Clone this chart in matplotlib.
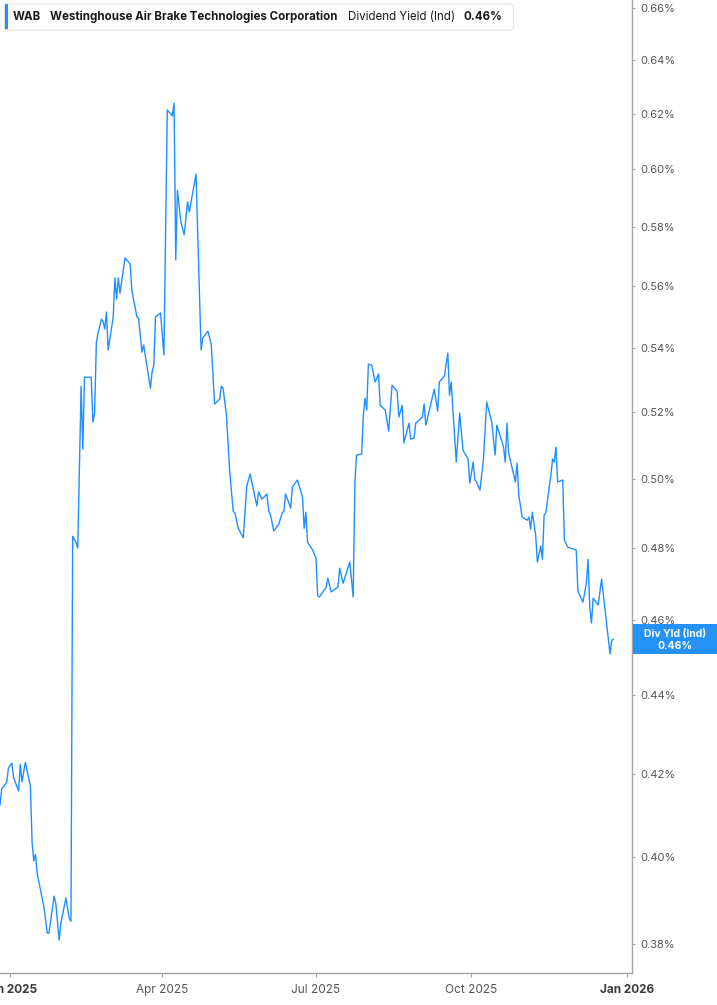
import matplotlib
matplotlib.use("Agg")
import matplotlib.pyplot as plt
import pandas as pd
from matplotlib.patches import FancyBboxPatch, Rectangle
from matplotlib.ticker import FixedLocator, NullLocator

plt.rcParams['font.family'] = ['Inter', 'DejaVu Sans']

# dividend yield (indicated), in percent
dates = [
    "2024-12-26", "2024-12-27", "2024-12-30", "2024-12-31",
    "2025-01-02", "2025-01-03", "2025-01-06", "2025-01-07", "2025-01-08", "2025-01-10",
    "2025-01-13", "2025-01-14", "2025-01-15", "2025-01-16", "2025-01-17", "2025-01-21",
    "2025-01-23", "2025-01-24", "2025-01-27", "2025-01-28", "2025-01-30", "2025-01-31",
    "2025-02-03", "2025-02-05", "2025-02-06", "2025-02-07", "2025-02-09", "2025-02-10",
    "2025-02-12", "2025-02-13", "2025-02-14", "2025-02-18", "2025-02-19", "2025-02-20",
    "2025-02-21", "2025-02-22", "2025-02-24", "2025-02-25", "2025-02-26", "2025-02-27",
    "2025-02-28",
    "2025-03-03", "2025-03-04", "2025-03-05", "2025-03-06", "2025-03-07", "2025-03-10",
    "2025-03-13", "2025-03-14", "2025-03-17", "2025-03-18", "2025-03-20", "2025-03-21",
    "2025-03-25", "2025-03-26", "2025-03-27", "2025-03-28", "2025-03-31",
    "2025-04-02", "2025-04-04", "2025-04-07", "2025-04-08", "2025-04-09", "2025-04-10",
    "2025-04-12", "2025-04-14", "2025-04-16", "2025-04-17", "2025-04-21", "2025-04-24",
    "2025-04-25", "2025-04-28", "2025-04-30",
    "2025-05-02", "2025-05-05", "2025-05-06", "2025-05-07", "2025-05-09", "2025-05-11",
    "2025-05-13", "2025-05-14", "2025-05-16", "2025-05-19", "2025-05-21", "2025-05-23",
    "2025-05-25", "2025-05-27", "2025-05-28", "2025-05-30",
    "2025-06-02", "2025-06-03", "2025-06-04", "2025-06-06", "2025-06-09", "2025-06-11",
    "2025-06-12", "2025-06-13", "2025-06-16", "2025-06-17", "2025-06-20", "2025-06-23",
    "2025-06-24", "2025-06-25", "2025-06-26", "2025-06-29",
    "2025-07-01", "2025-07-02", "2025-07-03", "2025-07-07", "2025-07-08", "2025-07-10",
    "2025-07-14", "2025-07-15", "2025-07-17", "2025-07-21", "2025-07-23", "2025-07-24",
    "2025-07-25", "2025-07-28", "2025-07-29", "2025-07-30", "2025-07-31",
    "2025-08-01", "2025-08-03", "2025-08-05", "2025-08-07", "2025-08-08", "2025-08-11",
    "2025-08-13", "2025-08-15", "2025-08-18", "2025-08-19", "2025-08-21", "2025-08-22",
    "2025-08-25", "2025-08-26", "2025-08-28", "2025-08-29",
    "2025-09-02", "2025-09-03", "2025-09-04", "2025-09-09", "2025-09-11", "2025-09-12",
    "2025-09-15", "2025-09-17", "2025-09-18", "2025-09-19", "2025-09-22", "2025-09-24",
    "2025-09-26", "2025-09-29", "2025-09-30",
    "2025-10-02", "2025-10-03", "2025-10-04", "2025-10-06", "2025-10-08", "2025-10-10",
    "2025-10-13", "2025-10-15", "2025-10-16", "2025-10-20", "2025-10-21", "2025-10-22",
    "2025-10-23", "2025-10-27", "2025-10-28", "2025-10-29", "2025-10-31",
    "2025-11-03", "2025-11-04", "2025-11-05", "2025-11-06", "2025-11-08", "2025-11-09",
    "2025-11-11", "2025-11-12", "2025-11-13", "2025-11-14", "2025-11-17", "2025-11-18",
    "2025-11-19", "2025-11-20", "2025-11-21", "2025-11-24", "2025-11-25", "2025-11-27",
    "2025-12-02", "2025-12-03", "2025-12-06", "2025-12-08", "2025-12-09", "2025-12-10",
    "2025-12-11", "2025-12-12", "2025-12-15", "2025-12-17", "2025-12-22", "2025-12-23",
    "2025-12-24",
]

yields = [
    0.4125, 0.4164, 0.4181, 0.4216,
    0.4228, 0.4193, 0.4159, 0.4225, 0.4181, 0.4230,
    0.4171, 0.4033, 0.3991, 0.4007, 0.3962, 0.3884,
    0.3825, 0.3825, 0.3909, 0.3893, 0.3809, 0.3847,
    0.3905, 0.3858, 0.3852, 0.4833, 0.4816, 0.4799,
    0.5280, 0.5088, 0.5308, 0.5308, 0.5169, 0.5197,
    0.5416, 0.5448, 0.5493, 0.5486, 0.5461, 0.5516,
    0.5394,
    0.5500, 0.5628, 0.5558, 0.5628, 0.5578, 0.5695,
    0.5674, 0.5588, 0.5500, 0.5496, 0.5387, 0.5410,
    0.5274, 0.5324, 0.5346, 0.5500, 0.5513,
    0.5378, 0.6214, 0.6192, 0.6239, 0.5688, 0.5927,
    0.5817, 0.5773, 0.5886, 0.5851, 0.5983, 0.5394,
    0.5432, 0.5454, 0.5413,
    0.5225, 0.5240, 0.5280, 0.5274, 0.5191, 0.5017,
    0.4905, 0.4900, 0.4856, 0.4828, 0.4978, 0.5014,
    0.4966, 0.4920, 0.4961, 0.4940,
    0.4955, 0.4905, 0.4896, 0.4848, 0.4868, 0.4900,
    0.4905, 0.4955, 0.4914, 0.4975, 0.4996, 0.4946,
    0.4856, 0.4902, 0.4816, 0.4794,
    0.4771, 0.4666, 0.4663, 0.4690, 0.4715, 0.4677,
    0.4690, 0.4743, 0.4701, 0.4760, 0.4663, 0.4987,
    0.5070, 0.5073, 0.5188, 0.5243, 0.5206,
    0.5349, 0.5346, 0.5293, 0.5318, 0.5221, 0.5206,
    0.5142, 0.5283, 0.5265, 0.5185, 0.5221, 0.5106,
    0.5166, 0.5118, 0.5121, 0.5166,
    0.5185, 0.5225, 0.5160, 0.5271, 0.5203, 0.5293,
    0.5312, 0.5384, 0.5252, 0.5293, 0.5049, 0.5197,
    0.5085, 0.5058, 0.4987,
    0.5049, 0.4996, 0.4990, 0.4966, 0.5052, 0.5231,
    0.5169, 0.5070, 0.5160, 0.5094, 0.5049, 0.5166,
    0.5076, 0.4990, 0.5046, 0.4952, 0.4888,
    0.4879, 0.4888, 0.4853, 0.4902, 0.4836, 0.4760,
    0.4805, 0.4768, 0.4894, 0.4900, 0.5011, 0.5058,
    0.5049, 0.5094, 0.4990, 0.4996, 0.4822, 0.4802,
    0.4794, 0.4679, 0.4649, 0.4701, 0.4768, 0.4635,
    0.4592, 0.4660, 0.4641, 0.4713, 0.4509, 0.4546,
    0.4548,
]

y_ticks = [0.38, 0.40, 0.42, 0.44, 0.46, 0.48, 0.50, 0.52,
           0.54, 0.56, 0.58, 0.60, 0.62, 0.64, 0.66]
x_ticks = ["2025-01-01", "2025-04-01", "2025-07-01", "2025-10-01", "2026-01-01"]
x_labels = ["Jan 2025", "Apr 2025", "Jul 2025", "Oct 2025", "Jan 2026"]

ticker = "WAB"
company = "Westinghouse Air Brake Technologies Corporation"
metric = "Dividend Yield (Ind)"
last_label = "0.46%"

LINE = "#1f8fff"
AXIS = "#a3a3a3"
W, H = 717, 1005

fig = plt.figure(figsize=(W / 100, H / 100), dpi=100)
fig.patch.set_facecolor("white")
ax = fig.add_axes([0, 32 / H, 632 / W, 973 / H])

ax.plot(pd.to_datetime(dates), yields, color=LINE, lw=1.0)

ax.set_yscale("log")
ax.set_ylim(0.3736, 0.6630)
ax.set_xlim(pd.Timestamp("2024-12-26"), pd.Timestamp("2026-01-04"))

ax.yaxis.tick_right()
ax.yaxis.set_major_locator(FixedLocator(y_ticks))
ax.yaxis.set_minor_locator(NullLocator())
ax.set_yticklabels([f"{v:.2f}%" for v in y_ticks])
ax.set_xticks(pd.to_datetime(x_ticks))
ax.set_xticklabels(x_labels)

ax.tick_params(axis="y", length=2, width=0.8, color=AXIS, pad=4,
               labelsize=8, labelcolor="#555555")
ax.tick_params(axis="x", length=3, width=0.8, color=AXIS, pad=5,
               labelsize=8.5, labelcolor="#555555")
for lab in ax.get_xticklabels():
    if lab.get_text().startswith("Jan"):
        lab.set_fontweight("bold")
        lab.set_color("#3a3a3a")

for side in ["top", "left"]:
    ax.spines[side].set_visible(False)
for side in ["right", "bottom"]:
    ax.spines[side].set_color(AXIS)
    ax.spines[side].set_linewidth(1.0)

# header box (inches, from the top-left)
inch = fig.dpi_scale_trans
top = H / 100
header = FancyBboxPatch((0.045, top - 0.30), 5.09, 0.26,
                        boxstyle="round,pad=0,rounding_size=0.03",
                        transform=inch, facecolor="white",
                        edgecolor="#e3e3e3", lw=0.8, zorder=5)
fig.add_artist(header)
fig.add_artist(Rectangle((0.045, top - 0.295), 0.03, 0.25, transform=inch,
                         facecolor=LINE, edgecolor="none", zorder=6))
ty = top - 0.165
fig.text(0.13, ty, ticker, transform=inch, fontsize=8.3, fontweight="bold",
         color="#1a1a1a", va="center", zorder=7)
fig.text(0.50, ty, company, transform=inch, fontsize=8.3, fontweight="bold",
         color="#1a1a1a", va="center", zorder=7)
fig.text(3.48, ty, metric, transform=inch, fontsize=8.3,
         color="#1a1a1a", va="center", zorder=7)
fig.text(4.64, ty, last_label, transform=inch, fontsize=8.3, fontweight="bold",
         color="#1a1a1a", va="center", zorder=7)

# last value tag on the right axis
fig.canvas.draw()
last_px = ax.transData.transform((ax.get_xlim()[1], yields[-1]))[1]
ly = last_px / 100
fig.add_artist(Rectangle((6.33, ly - 0.15), W / 100 - 6.33, 0.30, transform=inch,
                         facecolor="#2391f5", edgecolor="none", zorder=8))
fig.text(6.75, ly + 0.055, "Div Yld (Ind)", transform=inch, fontsize=7.5,
         fontweight="bold", color="white", ha="center", va="center", zorder=9)
fig.text(6.75, ly - 0.065, last_label, transform=inch, fontsize=7.5,
         fontweight="bold", color="white", ha="center", va="center", zorder=9)

fig.savefig("out.png", dpi=100)
